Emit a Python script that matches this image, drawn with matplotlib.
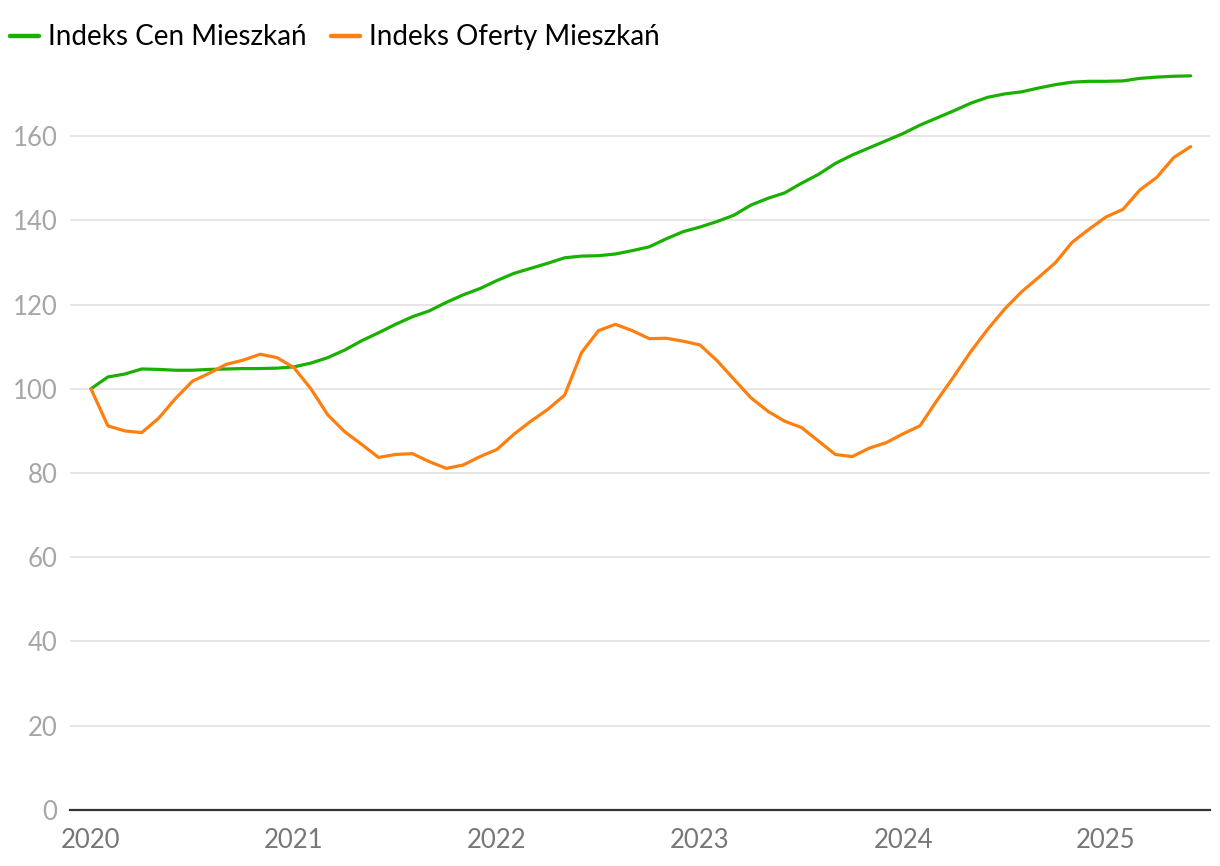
import matplotlib
matplotlib.use("Agg")
import matplotlib.pyplot as plt
import numpy as np

plt.rcParams["font.family"] = ["Lato", "DejaVu Sans"]

# =========================
# DATA (monthly, 2020-01 .. 2025-06)
# =========================
start_year = 2020
year_ticks = [2020, 2021, 2022, 2023, 2024, 2025]

cen = [
    100.0, 102.8, 103.5, 104.7, 104.6, 104.4, 104.4, 104.6, 104.7, 104.8, 104.8, 104.9,
    105.2, 106.1, 107.4, 109.2, 111.4, 113.3, 115.3, 117.1, 118.5, 120.5, 122.3, 123.8,
    125.7, 127.4, 128.6, 129.8, 131.1, 131.5, 131.6, 132.0, 132.8, 133.7, 135.6, 137.3,
    138.4, 139.7, 141.2, 143.6, 145.2, 146.5, 148.8, 150.9, 153.5, 155.5, 157.2, 158.9,
    160.6, 162.6, 164.3, 166.0, 167.8, 169.2, 170.0, 170.5, 171.4, 172.2, 172.8, 173.0,
    173.0, 173.1, 173.7, 174.0, 174.2, 174.3,
]

oferty = [
    100.0, 91.2, 90.0, 89.6, 93.0, 97.7, 101.8, 103.7, 105.8, 106.8, 108.2, 107.4,
    105.0, 100.0, 93.8, 89.8, 86.8, 83.7, 84.4, 84.6, 82.7, 81.1, 81.9, 83.9,
    85.6, 89.2, 92.3, 95.1, 98.5, 108.6, 113.8, 115.3, 113.8, 111.9, 112.0, 111.3,
    110.4, 106.7, 102.3, 97.9, 94.7, 92.3, 90.8, 87.6, 84.4, 83.9, 85.9, 87.2,
    89.3, 91.2, 97.2, 102.9, 108.8, 114.1, 118.9, 123.0, 126.4, 129.9, 134.8, 137.9,
    140.8, 142.6, 147.2, 150.2, 154.9, 157.5,
]

labels = ["Indeks Cen Mieszkań", "Indeks Oferty Mieszkań"]
colors = ["#19b000", "#ff7f0e"]

x = start_year + np.arange(len(cen)) / 12.0

# =========================
# PLOT
# =========================
fig = plt.figure(figsize=(12.2, 8.66), dpi=100)
ax = fig.add_axes([0.0574, 0.0647, 0.9344, 0.856])

ax.plot(x, cen, color=colors[0], lw=2.3, label=labels[0], solid_capstyle="round", zorder=3)
ax.plot(x, oferty, color=colors[1], lw=2.3, label=labels[1], solid_capstyle="round", zorder=3)

ax.set_xlim(2019.897, 2025.512)
ax.set_ylim(0, 176)
ax.set_yticks(range(0, 161, 20))
ax.set_xticks(year_ticks)
ax.set_xticklabels([str(y) for y in year_ticks])

ax.grid(axis="y", color="#e6e6e6", lw=1.4)
ax.set_axisbelow(True)
for s in ["top", "right", "left"]:
    ax.spines[s].set_visible(False)
ax.spines["bottom"].set_color("#333333")
ax.spines["bottom"].set_linewidth(1.6)
ax.spines["bottom"].set_zorder(4)

ax.tick_params(axis="y", length=0, pad=9, labelsize=18.5, labelcolor="#a6a6a6")
ax.tick_params(axis="x", length=0, pad=13, labelsize=18.5, labelcolor="#777777")

leg = fig.legend(loc="center left", bbox_to_anchor=(0.0082, 0.957), ncol=2, frameon=False,
                 fontsize=20, handlelength=1.05, handletextpad=0.3, columnspacing=0.9,
                 borderaxespad=0, borderpad=0)
for h in leg.get_lines():
    h.set_linewidth(3.2)

fig.savefig("out.png", dpi=100)
